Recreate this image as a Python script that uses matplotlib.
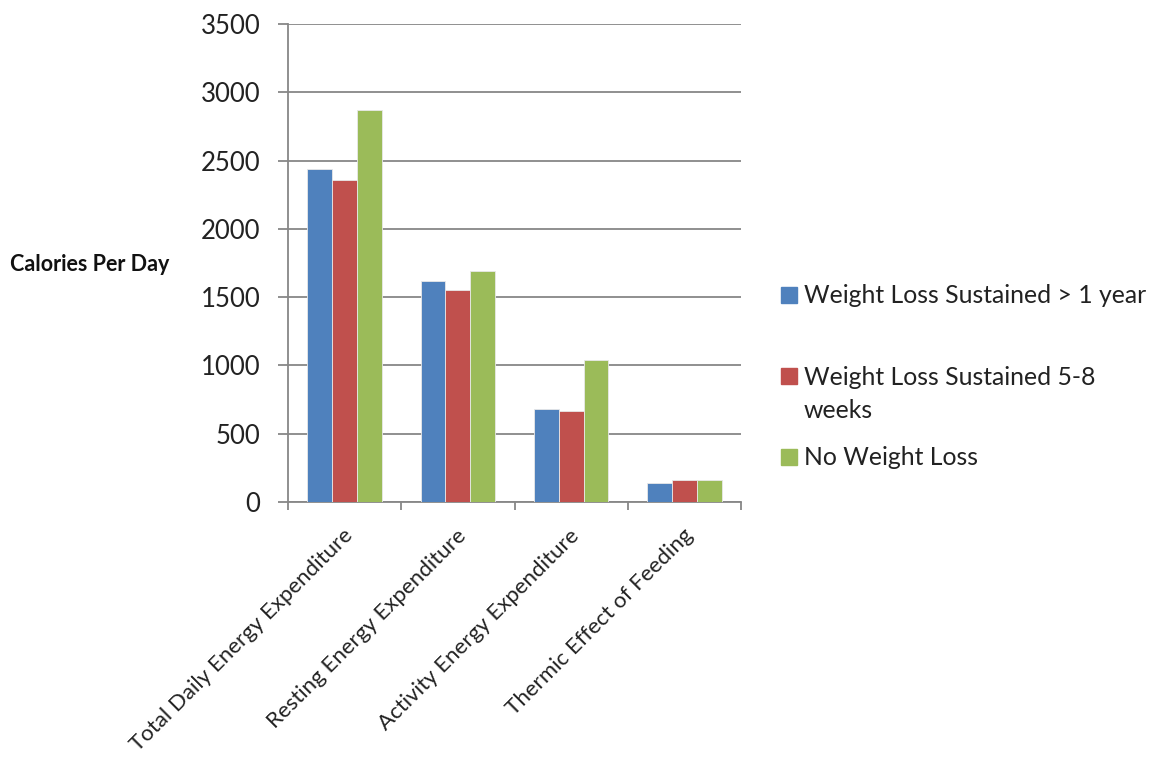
import matplotlib.pyplot as plt
import matplotlib.transforms as mtransforms
import numpy as np
from matplotlib.patches import Rectangle

plt.rcParams["font.family"] = ["Lato", "DejaVu Sans"]

categories = [
    "Total Daily Energy Expenditure",
    "Resting Energy Expenditure",
    "Activity Energy Expenditure",
    "Thermic Effect of Feeding",
]
series_names = [
    "Weight Loss Sustained > 1 year",
    "Weight Loss Sustained 5-8\nweeks",
    "No Weight Loss",
]
sustained_1yr = [2440, 1620, 680, 137]
sustained_5_8wk = [2355, 1550, 664, 161]
no_loss = [2873, 1690, 1042, 161]
colors = ["#4F81BD", "#C0504D", "#9BBB59"]
y_ticks = [0, 500, 1000, 1500, 2000, 2500, 3000, 3500]

W, H = 1150, 760
fig = plt.figure(figsize=(W / 100, H / 100), dpi=100)
ax = fig.add_axes([288 / W, 1 - 502 / H, (741 - 288) / W, (502 - 24) / H])

x = np.arange(len(categories))
width = 0.22
for i, (vals, col) in enumerate(zip([sustained_1yr, sustained_5_8wk, no_loss], colors)):
    ax.bar(x + (i - 1) * width, vals, width, color=col, zorder=3,
           edgecolor="#e8e8e8", linewidth=0.6)

grid = "#878787"
ax.set_xlim(-0.5, len(categories) - 0.5)
ax.set_ylim(0, 3500)
ax.set_yticks(y_ticks)
ax.yaxis.grid(True, color=grid, lw=1.3, zorder=0)
for s in ["top", "right"]:
    ax.spines[s].set_visible(False)
for s in ["left", "bottom"]:
    ax.spines[s].set_color(grid)
    ax.spines[s].set_linewidth(1.3)
ax.tick_params(axis="y", length=7, width=1.3, color=grid, pad=13, labelsize=18.5,
               labelcolor="#222222")

# category labels at centres, divider ticks at boundaries
ax.set_xticks(x)
ax.set_xticklabels(categories, rotation=45, ha="right", va="center",
                   rotation_mode="anchor", fontsize=16, color="#222222")
ax.set_xticks(np.arange(-0.5, len(categories)), minor=True)
ax.tick_params(axis="x", which="major", length=0, pad=22)
ax.tick_params(axis="x", which="minor", length=6, width=1.3, color=grid)
shift = mtransforms.ScaledTranslation(5 / 100, 0, fig.dpi_scale_trans)
for lab in ax.get_xticklabels():
    lab.set_transform(lab.get_transform() + shift)

fig.text(10 / W, 1 - 265 / H, "Calories Per Day", ha="left", va="center",
         fontsize=15.5, fontweight="bold", color="#111111")

# legend, Excel-style: square aligned with first text line
square_bottoms = [303, 384, 465]
text_baselines = [303, 418, 465]
for name, col, sq, base in zip(series_names, colors, square_bottoms, text_baselines):
    fig.patches.append(Rectangle((781 / W, 1 - sq / H), 16 / W, 16 / H,
                                 transform=fig.transFigure, color=col))
    fig.text(804 / W, 1 - base / H, name, ha="left", va="baseline",
             fontsize=17.8, color="#222222", linespacing=1.55)

fig.savefig("out.png", dpi=100)
